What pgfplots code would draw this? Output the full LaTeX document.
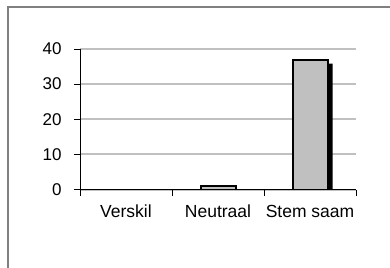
\documentclass[border=0pt]{standalone}
\usepackage{fontspec}
\setmainfont{Liberation Sans}
\usepackage{pgfplots}
\pgfplotsset{compat=1.18}
\definecolor{gridgray}{HTML}{C0C0C0}
\definecolor{framegray}{HTML}{808080}
\begin{document}
\begin{tikzpicture}
\path[use as bounding box] (0,0) rectangle (390bp,-268bp);
\fill[white] (0,0) rectangle (390bp,-268bp);
\draw[framegray, line width=1.2bp] (8bp,-268bp) -- (8bp,-7bp) -- (391bp,-7bp);
\begin{axis}[
  at={(80bp,-189.5bp)}, anchor=south west,
  scale only axis, width=276bp, height=140.5bp,
  xmin=-0.5, xmax=2.5, ymin=0, ymax=40,
  axis x line=bottom, axis y line=left,
  axis line style={-, black, line width=1bp},
  xtick={0,1,2}, xticklabels={Verskil, Neutraal, Stem saam},
  major x tick style={draw=none},
  minor xtick={-0.5,0.5,1.5,2.5},
  minor x tick style={black, line width=1bp},
  ytick={0,10,20,30,40},
  ymajorgrids, major grid style={gridgray, line width=2bp},
  y tick style={black, line width=1bp},
  tick align=outside,
  major tick length=6bp, minor tick length=6bp,
  /pgf/number format/assume math mode=true,
  yticklabel style={font=\fontsize{17bp}{19bp}\selectfont, xshift=-9bp},
  xticklabel style={font=\fontsize{17.5bp}{20bp}\selectfont, yshift=-6bp},
]
\addplot[ybar, bar width=35bp, fill=black, draw=none, bar shift=5bp, yshift=-4bp]
  coordinates {(0,0) (1,1) (2,37)};
\addplot[ybar, bar width=35bp, fill=gridgray, draw=black, line width=2bp, bar shift=0pt]
  coordinates {(1,1) (2,37)};
\end{axis}
\end{tikzpicture}
\end{document}
